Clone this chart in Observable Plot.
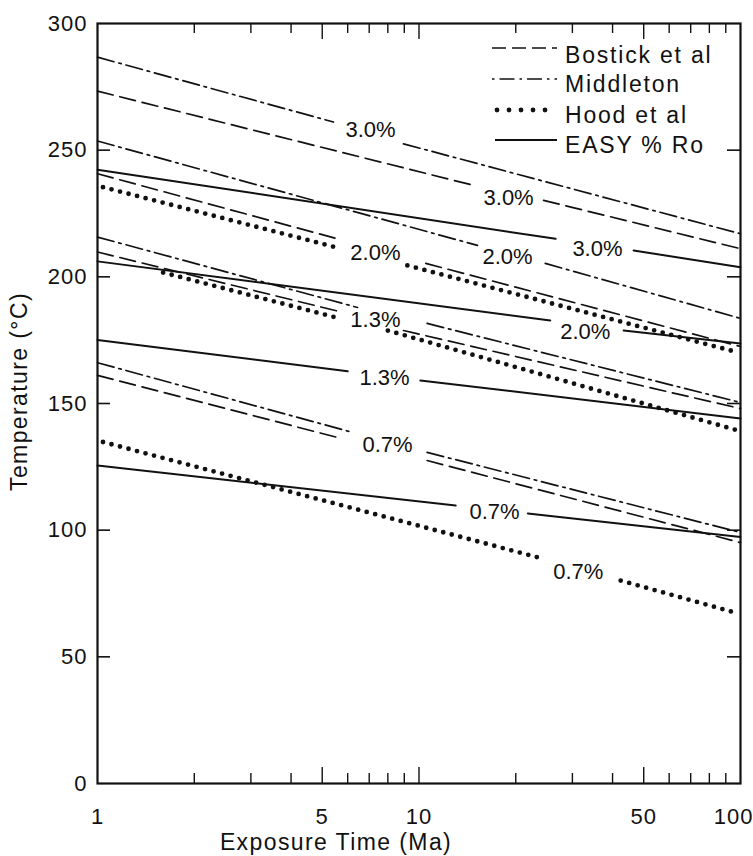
<!DOCTYPE html>
<html>
<head>
<meta charset="utf-8">
<script src="https://cdn.jsdelivr.net/npm/d3@7"></script>
<script src="https://cdn.jsdelivr.net/npm/@observablehq/plot@0.6"></script>
<style>
  body { margin: 0; background: #fff; }
  #wrap { position: relative; width: 753px; height: 856px; background: #fff; }
  #wrap svg text { font-family: "Liberation Sans", Arial, Helvetica, sans-serif; fill: #111; }
  #wrap svg g[aria-label$="tick label"] text { letter-spacing: 1px; }
  #legend { position: absolute; left: 0; top: 0; pointer-events: none; }
</style>
</head>
<body>
<div id="wrap"></div>
<script>
// ---------- data ----------
const methods = ["Bostick et al", "Middleton", "Hood et al", "EASY % Ro"];
const xTitle = "Exposure Time (Ma)";
const yTitle = "Temperature (°C)";
const xTickLabels = [1, 5, 10, 50, 100];
const xMinorTicks = [2, 3, 4, 6, 7, 8, 9, 20, 30, 40, 60, 70, 80, 90];
const xMajorTicks = [5, 10, 50];
const yTickLabels = [0, 50, 100, 150, 200, 250, 300];

// segments: [Ro label, x start (Ma), T start (°C), x end (Ma), T end (°C)]
const bostickSegments = [
  ["3.0%", 1, 273.3, 14.8, 236.1],
  ["3.0%", 24.4, 230.2, 100, 211.1],
  ["2.0%", 1, 240.7, 5.58, 215.0],
  ["2.0%", 10.5, 205.3, 100, 172.5],
  ["1.3%", 1, 209.8, 5.7, 186.2],
  ["1.3%", 8.95, 178.8, 100, 148.0],
  ["0.7%", 1, 161.1, 5.58, 136.6],
  ["0.7%", 10.6, 127.5, 100, 95.1]
];
const middletonSegments = [
  ["3.0%", 1, 286.7, 5.42, 261.1],
  ["3.0%", 8.95, 252.5, 100, 217.0],
  ["2.0%", 1, 253.6, 15.2, 212.4],
  ["2.0%", 24.7, 205.3, 100, 183.6],
  ["1.3%", 1, 215.7, 6.44, 187.9],
  ["1.3%", 10.6, 181.6, 100, 150.4],
  ["0.7%", 1, 166.1, 6.21, 138.6],
  ["0.7%", 10.6, 130.7, 100, 99.1]
];
const hoodSegments = [
  ["2.0%", 1.04, 235.4, 5.5, 211.7],
  ["2.0%", 9.2, 204.5, 96, 170.5],
  ["1.3%", 1.6, 201.7, 5.66, 183.6],
  ["1.3%", 8.0, 178.8, 96, 139.7],
  ["0.7%", 1.04, 134.8, 24.2, 88.8],
  ["0.7%", 42.4, 80.1, 96, 67.5]
];
const easySegments = [
  ["3.0%", 1, 242.3, 26.6, 215.0],
  ["3.0%", 46.5, 210.4, 100, 203.8],
  ["2.0%", 1, 206.1, 25.6, 182.8],
  ["2.0%", 43.3, 178.8, 100, 173.7],
  ["1.3%", 1, 175.1, 6.0, 162.7],
  ["1.3%", 10.1, 159.1, 100, 144.1],
  ["0.7%", 1, 125.5, 13.0, 109.7],
  ["0.7%", 21.8, 106.6, 100, 97.3]
];
// curve labels: [text, x (Ma), T (°C)]
const curveLabels = [
  ["3.0%", 7.07, 257.8],
  ["3.0%", 19.0, 231.3],
  ["3.0%", 35.9, 211.2],
  ["2.0%", 7.32, 209.6],
  ["2.0%", 18.85, 207.7],
  ["2.0%", 32.9, 178.4],
  ["1.3%", 7.32, 182.8],
  ["1.3%", 7.81, 159.9],
  ["0.7%", 7.98, 133.8],
  ["0.7%", 17.17, 107.0],
  ["0.7%", 31.3, 83.7]
];

// ---------- styles & layout ----------
const W = 753, H = 856;
const mTop = 23, mBottom = 73, mLeft = 97, mRight = 13;
const innerW = W - mLeft - mRight, innerH = H - mTop - mBottom;
const styles = {
  "Bostick et al": {strokeWidth: 1.7, strokeDasharray: "16,7"},
  "Middleton": {strokeWidth: 1.7, strokeDasharray: "17,5,2.5,5"},
  "Hood et al": {strokeWidth: 4.8, strokeDasharray: "0,8.8", strokeLinecap: "round"},
  "EASY % Ro": {strokeWidth: 2}
};

const allSegments = [bostickSegments, middletonSegments, hoodSegments, easySegments];
const segRows = [];
allSegments.forEach((segs, mi) => segs.forEach((s, si) => {
  const id = mi * 100 + si;
  segRows.push({method: methods[mi], ro: s[0], id, x: s[1], t: s[2]});
  segRows.push({method: methods[mi], ro: s[0], id, x: s[3], t: s[4]});
}));
const labelRows = curveLabels.map(([text, x, t]) => ({text, x, t}));

const plot = Plot.plot({
  width: W,
  height: H,
  marginTop: mTop,
  marginBottom: mBottom,
  marginLeft: mLeft,
  marginRight: mRight,
  style: {background: "transparent", color: "#111"},
  x: {type: "log", domain: [1, 100]},
  y: {domain: [0, 300]},
  marks: [
    ...methods.map(m => Plot.line(segRows.filter(r => r.method === m), {
      x: "x", y: "t", z: "id", stroke: "#111", ...styles[m]
    })),
    Plot.text(labelRows, {x: "x", y: "t", text: "text", fontSize: 22, fill: "#111"}),
    // inward ticks
    Plot.tickX(xMinorTicks, {x: d => d, insetTop: innerH - 10, stroke: "#111", strokeWidth: 1.4}),
    Plot.tickX(xMajorTicks, {x: d => d, insetTop: innerH - 16, stroke: "#111", strokeWidth: 1.4}),
    Plot.tickX(xMinorTicks, {x: d => d, insetBottom: innerH - 10, stroke: "#111", strokeWidth: 1.4}),
    Plot.tickX(xMajorTicks, {x: d => d, insetBottom: innerH - 16, stroke: "#111", strokeWidth: 1.4}),
    Plot.tickY(yTickLabels.slice(1, -1), {y: d => d, insetRight: innerW - 13, stroke: "#111", strokeWidth: 1.6}),
    Plot.tickY(yTickLabels.slice(1, -1), {y: d => d, insetLeft: innerW - 13, stroke: "#111", strokeWidth: 1.6}),
    Plot.axisX({ticks: xTickLabels.slice(0, -1), tickFormat: d => String(d), tickSize: 0, tickPadding: 25, fontSize: 22, label: null}),
    Plot.axisX({ticks: xTickLabels.slice(-1), tickFormat: d => String(d), tickSize: 0, tickPadding: 25, fontSize: 22, label: null, textAnchor: "end", dx: 13}),
    Plot.axisY({ticks: yTickLabels, tickFormat: d => String(d), tickSize: 0, tickPadding: 10, fontSize: 22, label: null}),
    Plot.text([xTitle], {frameAnchor: "bottom", text: d => d, textAnchor: "middle", lineAnchor: "middle", dx: -83, dy: 59, fontSize: 23, fill: "#111"}),
    Plot.text([yTitle], {frameAnchor: "left", text: d => d, textAnchor: "middle", lineAnchor: "middle", rotate: -90, dx: -78, dy: -12, fontSize: 23, fill: "#111"}),
    Plot.frame({stroke: "#111", strokeWidth: 2.2})
  ]
});

d3.select(plot).selectAll("text")
  .filter(function() { return this.textContent === xTitle || this.textContent === yTitle; })
  .style("letter-spacing", "1.4px");

const wrap = document.getElementById("wrap");
wrap.appendChild(plot);

// ---------- legend (overlay, top-right inside frame) ----------
const legendSample = {x2: 557, textX: 565};
const legendRowsY = [48, 79, 110, 140];
const legendBaselines = [63, 92, 123, 153];
const legendStyles = {
  "Bostick et al": {w: 1.7, dash: "14,6", cap: "butt", x1: 492},
  "Middleton": {w: 1.7, dash: "2.5,5,15,5", cap: "butt", x1: 492},
  "Hood et al": {w: 4.8, dash: "0,12", cap: "round", x1: 497},
  "EASY % Ro": {w: 2, dash: null, cap: "butt", x1: 495}
};
const leg = d3.create("svg").attr("id", "legend").attr("width", W).attr("height", 170);
methods.forEach((m, i) => {
  const st = legendStyles[m];
  leg.append("line")
    .attr("x1", st.x1).attr("x2", legendSample.x2)
    .attr("y1", legendRowsY[i]).attr("y2", legendRowsY[i])
    .attr("stroke", "#111").attr("stroke-width", st.w)
    .attr("stroke-linecap", st.cap)
    .attr("stroke-dasharray", st.dash);
  leg.append("text")
    .attr("x", legendSample.textX).attr("y", legendBaselines[i])
    .attr("font-size", 23).style("letter-spacing", "1.8px")
    .attr("fill", "#111")
    .text(m);
});
wrap.appendChild(leg.node());
</script>
</body>
</html>
